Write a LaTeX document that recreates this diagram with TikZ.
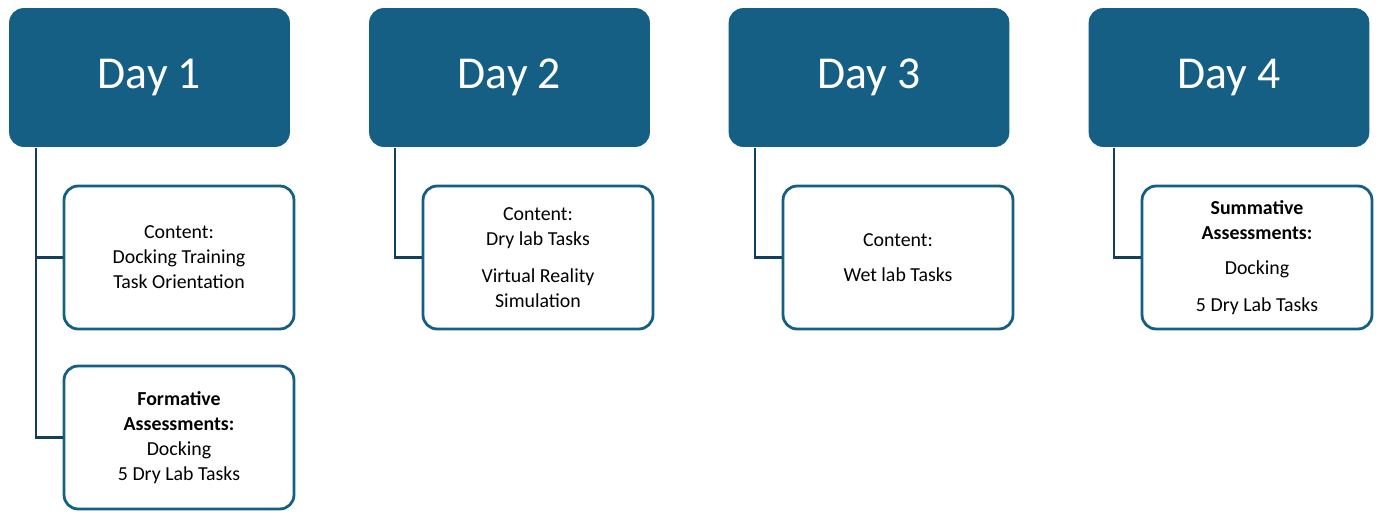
\documentclass[tikz,border=0pt]{standalone}
\usepackage{fontspec}
\setmainfont{Carlito}
\usetikzlibrary{positioning}
\definecolor{dayblue}{HTML}{155E84}
\definecolor{linkblue}{HTML}{123F5C}
\tikzset{
	day/.style={draw=dayblue, fill=dayblue, rounded corners=8pt, text=white,
		minimum width=5.6cm, minimum height=2.76cm, font=\fontsize{26}{30}\selectfont},
	task/.style={draw=dayblue, line width=1.6pt, fill=white, rounded corners=8pt,
		minimum width=4.6cm, minimum height=2.86cm, align=center,
		font=\fontsize{11.3}{14.2}\selectfont},
	link/.style={draw=linkblue, line width=1.4pt}
}
\begin{document}
\begin{tikzpicture}[x=0.02cm,y=-0.02cm]
	\useasboundingbox (0,0) rectangle (1383,520);
	% Day headers
	\node[day] (d1) at (149.5,77.5) {Day 1};
	\node[day] (d2) at (509.5,77.5) {Day 2};
	\node[day] (d3) at (869,77.5) {Day 3};
	\node[day] (d4) at (1229,77.5) {Day 4};
	
	% Task boxes
	\node[task] (c1) at (179,257.5) {Content:\\Docking Training\\Task Orientation};
	\node[task] (f1) at (179,437.5) {\textbf{Formative}\\\textbf{Assessments:}\\Docking\\5 Dry Lab Tasks};
	\node[task] (c2) at (538,257.5) {Content:\\Dry lab Tasks\\[0.25cm]Virtual Reality\\Simulation};
	\node[task] (c3) at (898,257.5) {Content:\\[0.2cm]Wet lab Tasks};
	\node[task] (c4) at (1257,257.5) {\textbf{Summative}\\\textbf{Assessments:}\\[0.2cm]Docking\\[0.25cm]5 Dry Lab Tasks};
	
	% Spines
	\coordinate (s1) at (36,148);
	\coordinate (s2) at (395,148);
	\coordinate (s3) at (755,148);
	\coordinate (s4) at (1114,148);
	
	% Links
	\draw[link] (s1) |- (c1.west);
	\draw[link] (s1) |- (f1.west);
	\draw[link] (s2) |- (c2.west);
	\draw[link] (s3) |- (c3.west);
	\draw[link] (s4) |- (c4.west);
\end{tikzpicture}
\end{document}
